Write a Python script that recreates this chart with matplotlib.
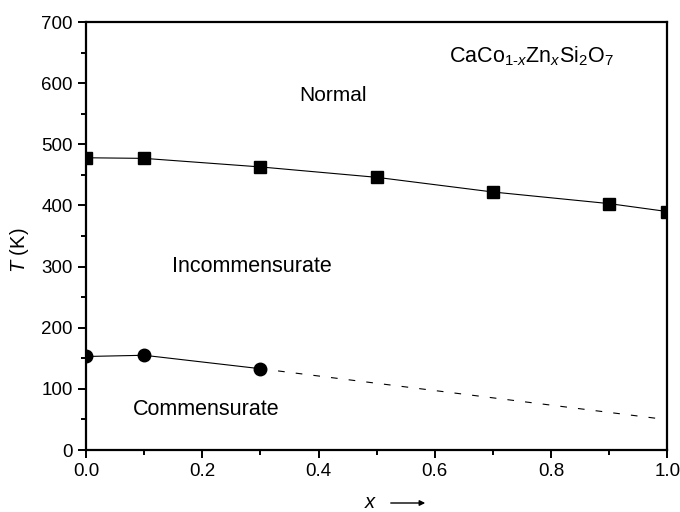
import matplotlib
matplotlib.use("Agg")
import matplotlib.pyplot as plt

plt.rcParams['font.family'] = ['Liberation Sans', 'DejaVu Sans']
plt.rcParams['mathtext.fontset'] = 'custom'
plt.rcParams['mathtext.rm'] = 'Liberation Sans'
plt.rcParams['mathtext.it'] = 'Liberation Sans:italic'

# Data
x_ic = [0.0, 0.1, 0.3, 0.5, 0.7, 0.9, 1.0]
T_ic = [478, 477, 463, 446, 422, 403, 390]
x_c = [0.0, 0.1, 0.3]
T_c = [153, 155, 133]
x_c_ext = [0.3, 0.98]
T_c_ext = [133, 52]

fig = plt.figure(figsize=(6.8, 5.12), dpi=100)
ax = fig.add_axes([0.1265, 0.121, 0.855, 0.836])

ax.plot(x_ic, T_ic, '-', color='black', lw=0.8, marker='s', ms=8, mfc='black', mec='black')
ax.plot(x_c, T_c, '-', color='black', lw=0.8, marker='o', ms=9, mfc='black', mec='black')
ax.plot(x_c_ext, T_c_ext, '--', color='black', lw=0.8, dashes=(6, 10))

ax.set_xlim(0, 1.0)
ax.set_ylim(0, 700)
ax.set_xticks([0.0, 0.2, 0.4, 0.6, 0.8, 1.0])
ax.set_xticklabels(['0.0', '0.2', '0.4', '0.6', '0.8', '1.0'])
ax.set_xticks([0.1, 0.3, 0.5, 0.7, 0.9], minor=True)
ax.set_yticks(range(0, 701, 100))
ax.set_yticks(range(50, 700, 100), minor=True)

for s in ax.spines.values():
    s.set_linewidth(1.6)
ax.tick_params(which='both', direction='out', top=False, right=False, labelsize=13.5, width=1.4)
ax.tick_params(which='major', length=6)
ax.tick_params(which='minor', length=3.5)

ax.set_ylabel(r'$\it{T}$ (K)', fontsize=14.5)
ax.yaxis.set_label_coords(-0.094, 0.467)

ax.text(0.424, 580, 'Normal', fontsize=15, ha='center', va='center')
ax.text(0.286, 300, 'Incommensurate', fontsize=15.5, ha='center', va='center')
ax.text(0.207, 67, 'Commensurate', fontsize=15.5, ha='center', va='center')
ax.text(0.766, 644, r'CaCo$_{1\text{-}\mathit{x}}$Zn$_\mathit{x}$Si$_2$O$_7$', fontsize=15.5, ha='center', va='center')

# x label with arrow
fig.text(370/680, 1 - 502/512, 'x', fontsize=14.5, style='italic', ha='center', va='center')
fig.add_artist(matplotlib.patches.FancyArrowPatch((388/680, 1 - 503/512), (428/680, 1 - 503/512),
               transform=fig.transFigure, arrowstyle='-|>', mutation_scale=8, color='black', lw=1.0))

fig.savefig('out.png', dpi=100)
